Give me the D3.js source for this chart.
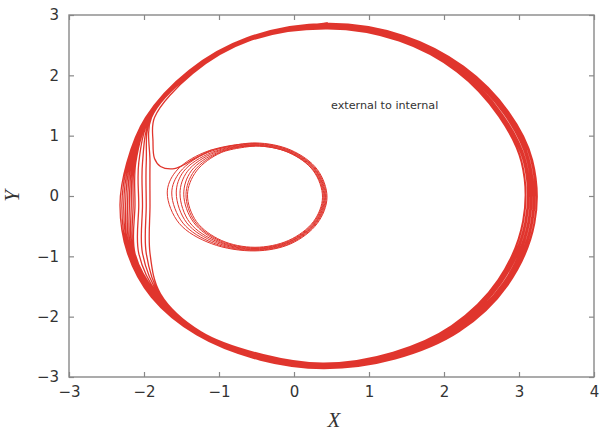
<!DOCTYPE html>
<html>
<head>
<meta charset="utf-8">
<script src="https://cdn.jsdelivr.net/npm/d3@7/dist/d3.min.js"></script>
<style>
body { margin: 0; background: #fff; }
.tick text { font-family: "DejaVu Sans", sans-serif; font-size: 15px; fill: #333; }
.tick line { stroke: #888; stroke-width: 1.2; }
</style>
</head>
<body>
<svg id="myGraph" width="600" height="431"></svg>
<script>
// tick values
var xTicks = [-3, -2, -1, 0, 1, 2, 3, 4];
var yTicks = [-3, -2, -1, 0, 1, 2, 3];

// outer cycle, loops (counter-clockwise, from the top)
var outerLoops = [
	[[0.45,2.87],[-0.63,2.62],[-1.40,2.08],[-1.98,1.30],[-2.23,0.55],[-2.32,-0.15],[-2.22,-0.95],[-1.90,-1.68],[-1.30,-2.30],[-0.45,-2.72],[0.40,-2.86],[1.35,-2.70],[2.20,-2.25],[2.85,-1.48],[3.21,-0.45],[3.18,0.60],[2.86,1.40],[2.26,2.15],[1.46,2.66]],
	[[0.45,2.86],[-0.63,2.62],[-1.40,2.08],[-1.97,1.30],[-2.215,0.55],[-2.295,-0.15],[-2.21,-0.95],[-1.89,-1.68],[-1.30,-2.30],[-0.45,-2.71],[0.40,-2.85],[1.35,-2.69],[2.19,-2.24],[2.84,-1.47],[3.20,-0.45],[3.17,0.60],[2.85,1.39],[2.25,2.14],[1.46,2.65]],
	[[0.45,2.86],[-0.62,2.61],[-1.39,2.07],[-1.97,1.30],[-2.20,0.55],[-2.27,-0.15],[-2.20,-0.95],[-1.88,-1.67],[-1.29,-2.29],[-0.44,-2.71],[0.40,-2.85],[1.34,-2.68],[2.18,-2.23],[2.83,-1.47],[3.18,-0.45],[3.16,0.59],[2.84,1.39],[2.25,2.14],[1.45,2.65]],
	[[0.45,2.85],[-0.62,2.61],[-1.39,2.07],[-1.96,1.30],[-2.185,0.55],[-2.245,-0.15],[-2.19,-0.95],[-1.87,-1.67],[-1.29,-2.29],[-0.44,-2.70],[0.40,-2.84],[1.34,-2.67],[2.18,-2.22],[2.82,-1.46],[3.17,-0.44],[3.14,0.59],[2.83,1.38],[2.24,2.13],[1.45,2.64]],
	[[0.45,2.84],[-0.62,2.61],[-1.39,2.07],[-1.95,1.30],[-2.17,0.55],[-2.22,-0.15],[-2.18,-0.95],[-1.86,-1.66],[-1.28,-2.28],[-0.44,-2.69],[0.40,-2.83],[1.34,-2.66],[2.17,-2.22],[2.81,-1.45],[3.16,-0.44],[3.13,0.59],[2.82,1.37],[2.23,2.12],[1.44,2.63]],
	[[0.45,2.83],[-0.62,2.60],[-1.38,2.06],[-1.95,1.30],[-2.155,0.55],[-2.195,-0.15],[-2.165,-0.95],[-1.85,-1.66],[-1.28,-2.28],[-0.43,-2.68],[0.40,-2.82],[1.34,-2.65],[2.16,-2.21],[2.80,-1.44],[3.14,-0.44],[3.12,0.58],[2.81,1.37],[2.22,2.11],[1.44,2.62]],
	[[0.45,2.83],[-0.62,2.60],[-1.38,2.06],[-1.94,1.30],[-2.14,0.55],[-2.17,-0.15],[-2.15,-0.95],[-1.84,-1.65],[-1.27,-2.27],[-0.43,-2.68],[0.40,-2.82],[1.34,-2.65],[2.15,-2.20],[2.79,-1.44],[3.13,-0.44],[3.11,0.58],[2.80,1.36],[2.22,2.11],[1.43,2.62]],
	[[0.45,2.82],[-0.61,2.60],[-1.38,2.06],[-1.93,1.30],[-2.125,0.55],[-2.145,-0.15],[-2.135,-0.95],[-1.83,-1.65],[-1.27,-2.27],[-0.43,-2.67],[0.40,-2.81],[1.33,-2.64],[2.14,-2.19],[2.77,-1.43],[3.12,-0.43],[3.09,0.58],[2.78,1.35],[2.21,2.10],[1.43,2.61]],
	[[0.45,2.81],[-0.61,2.59],[-1.37,2.05],[-1.93,1.30],[-2.11,0.55],[-2.12,-0.15],[-2.12,-0.95],[-1.82,-1.64],[-1.26,-2.27],[-0.42,-2.66],[0.40,-2.80],[1.33,-2.63],[2.13,-2.18],[2.76,-1.42],[3.10,-0.43],[3.08,0.57],[2.77,1.35],[2.20,2.09],[1.42,2.60]],
	[[0.45,2.80],[-0.61,2.59],[-1.37,2.05],[-1.92,1.30],[-2.07,0.55],[-2.07,-0.15],[-2.07,-0.95],[-1.81,-1.64],[-1.26,-2.26],[-0.42,-2.65],[0.40,-2.79],[1.33,-2.62],[2.12,-2.17],[2.75,-1.41],[3.09,-0.43],[3.07,0.57],[2.76,1.34],[2.19,2.08],[1.42,2.59]],
	[[0.45,2.80],[-0.61,2.59],[-1.37,2.05],[-1.91,1.30],[-2.02,0.55],[-2.02,-0.15],[-2.02,-0.95],[-1.80,-1.63],[-1.25,-2.26],[-0.42,-2.65],[0.40,-2.79],[1.33,-2.61],[2.12,-2.17],[2.74,-1.41],[3.08,-0.43],[3.06,0.57],[2.75,1.33],[2.19,2.08],[1.41,2.59]],
	[[0.45,2.79],[-0.60,2.58],[-1.36,2.04],[-1.91,1.30],[-1.97,0.55],[-1.97,-0.15],[-1.97,-0.95],[-1.79,-1.63],[-1.25,-2.25],[-0.41,-2.64],[0.40,-2.78],[1.32,-2.60],[2.11,-2.16],[2.73,-1.40],[3.06,-0.42],[3.04,0.56],[2.74,1.33],[2.18,2.07],[1.41,2.58]],
	[[0.45,2.78],[-0.60,2.58],[-1.36,2.04],[-1.90,1.30],[-1.92,0.55],[-1.92,-0.15],[-1.92,-0.95],[-1.78,-1.62],[-1.24,-2.25],[-0.41,-2.63],[0.40,-2.77],[1.32,-2.59],[2.10,-2.15],[2.72,-1.39],[3.05,-0.42],[3.03,0.56],[2.73,1.32],[2.17,2.06],[1.40,2.57]]
];

// the last pass: leaves the outer cycle on the left and drops into the inner one
var transit = [[0.45,2.77],[-0.60,2.57],[-1.35,2.03],[-1.86,1.30],[-1.88,0.90],[-1.86,0.62],[-1.78,0.49],[-1.62,0.45],[-1.48,0.51],[-1.33,0.62],[-1.10,0.76]];

// inner cycle loops (clockwise, from the top)
var innerLoops = [
	[[-0.52,0.88],[-0.04,0.76],[0.31,0.44],[0.44,-0.02],[0.31,-0.455],[-0.04,-0.79],[-0.52,-0.91],[-1.10,-0.79],[-1.53,-0.455],[-1.69,0.05],[-1.58,0.40],[-1.20,0.72]],
	[[-0.52,0.87],[-0.045,0.75],[0.30,0.435],[0.43,-0.02],[0.30,-0.45],[-0.045,-0.78],[-0.52,-0.90],[-1.075,-0.78],[-1.48,-0.45],[-1.63,0.05],[-1.52,0.40],[-1.15,0.72]],
	[[-0.52,0.86],[-0.05,0.745],[0.29,0.43],[0.42,-0.02],[0.29,-0.445],[-0.05,-0.77],[-0.52,-0.89],[-1.045,-0.77],[-1.43,-0.445],[-1.57,0.05],[-1.47,0.41],[-1.10,0.72]],
	[[-0.52,0.85],[-0.055,0.735],[0.285,0.425],[0.41,-0.02],[0.285,-0.44],[-0.055,-0.76],[-0.52,-0.88],[-1.02,-0.76],[-1.39,-0.44],[-1.52,0.04],[-1.42,0.41],[-1.06,0.72]],
	[[-0.52,0.84],[-0.06,0.727],[0.277,0.42],[0.40,-0.02],[0.277,-0.435],[-0.06,-0.755],[-0.52,-0.87],[-0.995,-0.755],[-1.34,-0.435],[-1.47,0.03],[-1.37,0.415],[-1.02,0.72]],
	[[-0.52,0.83],[-0.065,0.72],[0.268,0.415],[0.39,-0.02],[0.268,-0.43],[-0.065,-0.745],[-0.52,-0.86],[-0.98,-0.745],[-1.32,-0.43],[-1.44,0.02],[-1.33,0.415],[-0.99,0.72]],
	[[-0.52,0.83],[-0.07,0.72],[0.259,0.415],[0.38,-0.02],[0.259,-0.425],[-0.07,-0.735],[-0.52,-0.85],[-0.97,-0.735],[-1.30,-0.425],[-1.42,0.02],[-1.30,0.415],[-0.97,0.72]]
];

var svg = d3.select("#myGraph");
var xScale = d3.scaleLinear().domain([-3, 4]).range([69, 594]);
var yScale = d3.scaleLinear().domain([-3, 3]).range([377, 15]);

// trajectory: outer part (with the transit) and inner part, joined end to start
var outerPart = [];
outerLoops.forEach(function(loop){ outerPart = outerPart.concat(loop); });
outerPart = outerPart.concat(transit);
var innerPart = [transit[transit.length - 1]];
innerLoops.forEach(function(loop){ innerPart = innerPart.concat(loop); });
innerPart.push(innerLoops[innerLoops.length - 1][0]);

var line = d3.line()
	.x(function(d){ return xScale(d[0]); })
	.y(function(d){ return yScale(d[1]); })
	.curve(d3.curveCatmullRom.alpha(0.5));

svg.append("path")
	.datum(outerPart)
	.attr("d", line)
	.attr("fill", "none")
	.attr("stroke", "#e0352d")
	.attr("stroke-width", 1.3);

svg.append("path")
	.datum(innerPart)
	.attr("d", line)
	.attr("fill", "none")
	.attr("stroke", "#e0352d")
	.attr("stroke-width", 1.0);

var fmt = d3.format("d");

// axes, ticks pointing inward on all four sides
svg.append("g")
	.attr("transform", "translate(0," + yScale(-3) + ")")
	.call(d3.axisBottom(xScale).tickValues(xTicks).tickFormat(fmt).tickSizeInner(-5).tickSizeOuter(0).tickPadding(9))
	.call(function(g){ g.select(".domain").remove(); });
svg.append("g")
	.attr("transform", "translate(0," + yScale(3) + ")")
	.call(d3.axisTop(xScale).tickValues(xTicks).tickSizeInner(-5).tickSizeOuter(0).tickFormat(""))
	.call(function(g){ g.select(".domain").remove(); });
svg.append("g")
	.attr("transform", "translate(" + xScale(-3) + ",0)")
	.call(d3.axisLeft(yScale).tickValues(yTicks).tickFormat(fmt).tickSizeInner(-5).tickSizeOuter(0).tickPadding(10))
	.call(function(g){ g.select(".domain").remove(); });
svg.append("g")
	.attr("transform", "translate(" + xScale(4) + ",0)")
	.call(d3.axisRight(yScale).tickValues(yTicks).tickSizeInner(-5).tickSizeOuter(0).tickFormat(""))
	.call(function(g){ g.select(".domain").remove(); });

// frame
svg.append("rect")
	.attr("x", xScale(-3)).attr("y", yScale(3))
	.attr("width", xScale(4) - xScale(-3))
	.attr("height", yScale(-3) - yScale(3))
	.attr("fill", "none")
	.attr("stroke", "#888")
	.attr("stroke-width", 1.4);

// axis titles
svg.append("text")
	.attr("x", 334).attr("y", 427)
	.attr("text-anchor", "middle")
	.style("font-family", "'Liberation Serif', serif")
	.style("font-style", "italic")
	.style("font-size", "21px")
	.attr("fill", "#333")
	.text("X");
svg.append("text")
	.attr("transform", "translate(19,196) rotate(-90)")
	.attr("text-anchor", "middle")
	.style("font-family", "'Liberation Serif', serif")
	.style("font-style", "italic")
	.style("font-size", "21px")
	.attr("fill", "#333")
	.text("Y");

// note
svg.append("text")
	.attr("x", 331).attr("y", 109)
	.style("font-family", "'DejaVu Sans', sans-serif")
	.style("font-size", "11.2px")
	.attr("fill", "#333")
	.text("external to internal");
</script>
</body>
</html>
